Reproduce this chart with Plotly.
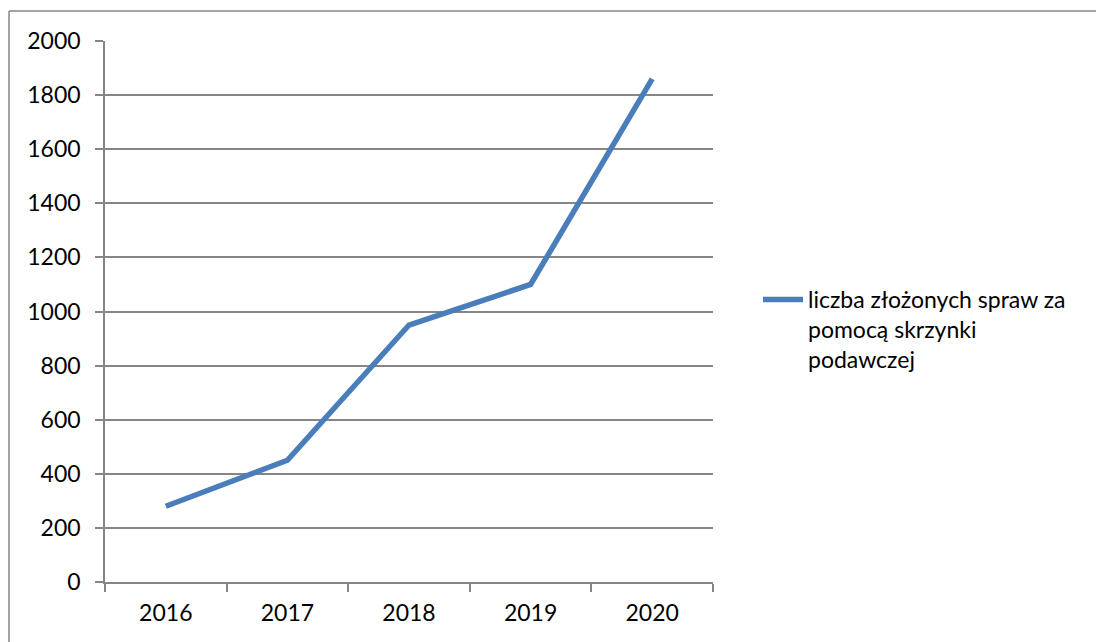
import plotly.graph_objects as go

years = ["2016", "2017", "2018", "2019", "2020"]
values = [280, 450, 950, 1100, 1860]
series_name = "liczba złożonych spraw za<br>pomocą skrzynki<br>podawczej"
y_ticks = [0, 200, 400, 600, 800, 1000, 1200, 1400, 1600, 1800, 2000]

W, H = 1104, 642
OFF = 8  # page body margin
# plot area in screen pixels
L, R, T, B = 105, 713, 41, 582

def px_x(p):
    return (p - L) / (R - L)

def px_y(p):
    return (B - p) / (B - T)

FONT = "Lato"
GRID = "#868686"

fig = go.Figure()
fig.add_trace(go.Scatter(
    x=years, y=values, mode="lines", name=series_name,
    line=dict(color="#4A7EBB", width=5.5), showlegend=True,
))

fig.update_layout(
    width=W, height=H,
    margin=dict(l=L - OFF, r=W - (R - OFF), t=T - OFF, b=H - (B - OFF), pad=0),
    paper_bgcolor="white", plot_bgcolor="white",
    font=dict(family=FONT, size=23, color="black"),
    showlegend=True,
    legend=dict(
        x=px_x(758), y=px_y(278), xanchor="left", yanchor="top",
        font=dict(family=FONT, size=23, color="black"),
        valign="top",
        itemwidth=40, tracegroupgap=0,
        bgcolor="rgba(0,0,0,0)",
    ),
    xaxis=dict(
        type="category", range=[-0.5, 4.5],
        showgrid=False, showline=True, linecolor=GRID, linewidth=1.5,
        ticks="outside", ticklen=8, tickcolor=GRID, tickwidth=1.5,
        tickson="boundaries", ticklabelstandoff=10,
        zeroline=False,
    ),
    yaxis=dict(
        range=[0, 2000], tickvals=y_ticks,
        showgrid=True, gridcolor=GRID, gridwidth=1.5,
        showline=True, linecolor=GRID, linewidth=1.5,
        ticks="outside", ticklen=8, tickcolor=GRID, tickwidth=1.5,
        ticklabelstandoff=10, zeroline=False,
    ),
    shapes=[
        dict(type="line", xref="paper", yref="paper",
             x0=px_x(9), x1=px_x(1120), y0=px_y(11), y1=px_y(11),
             line=dict(color=GRID, width=1.5)),
        dict(type="line", xref="paper", yref="paper",
             x0=px_x(9), x1=px_x(9), y0=px_y(11), y1=px_y(660),
             line=dict(color=GRID, width=1.5)),
    ],
)

fig.write_html("out.html")
